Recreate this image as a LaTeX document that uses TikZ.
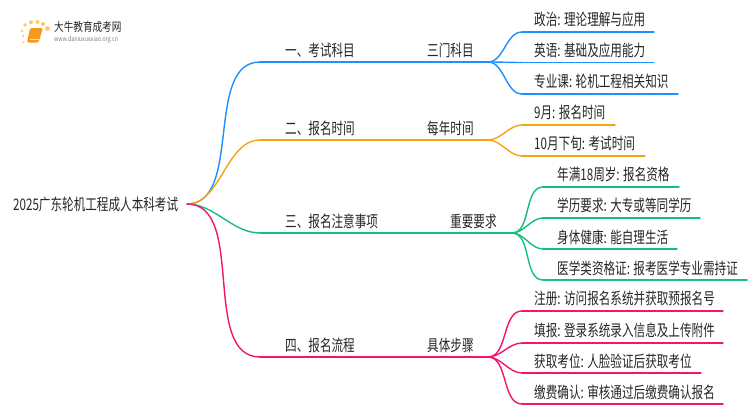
\documentclass[tikz,border=0pt]{standalone}
\usepackage{fontspec}
\setmainfont[FakeStretch=0.725]{Noto Sans CJK SC}
\newfontfamily\logofont[FakeStretch=0.8]{Noto Sans CJK SC}
\definecolor{cblue}{HTML}{1E90FF}
\definecolor{corange}{HTML}{F5A50F}
\definecolor{cgreen}{HTML}{13C07A}
\definecolor{cpink}{HTML}{F5146E}
\definecolor{ctext}{HTML}{262626}
\definecolor{cbook}{HTML}{F59A1E}
\definecolor{cdot}{HTML}{FFCB5A}
\tikzset{
  lab/.style={font=\fontsize{16}{16}\selectfont,text=ctext,inner sep=0pt,anchor=base west},
  wire/.style={line width=1.4pt,line cap=round},
  spine/.style={wire,out=0,in=180,looseness=0.9},
}
\begin{document}
\begin{tikzpicture}[x=1pt,y=-1pt]
\useasboundingbox[fill=white] (0,0) rectangle (750,410);
% logo
\fill[rounded corners=1.5pt,cbook] (30,28) -- (43,28) -- (38.5,42.5) -- (27,42.5) -- cycle;
\fill[white!70!cbook] (29.5,39) rectangle (39,39.8);
\foreach \p/\s in {{23.3,42.3}/1.1,{23.3,36}/1.2,{22,31}/1.4,{25,25}/1.8,{31,22.3}/2,{37.5,22}/2,{43,24}/2,{47.5,28.5}/2.4}{
  \fill[cdot] (\p) circle (\s);
}
\node[inner sep=0pt,font=\logofont\fontsize{12}{12}\selectfont,text=ctext,anchor=base west] (logot) at (54,31.5) {大牛教育成考网};
\node[inner sep=0pt,font=\logofont\fontsize{6.6}{6.6}\selectfont,text=gray,anchor=base west] (logou) at (54,41) {www.daniuxuexiao.org.cn};
% root
\node[lab] (root) at (13,210.5) {2025广东轮机工程成人本科考试};
\coordinate (o) at (187,204);
% branches
\foreach \col/\yy/\name in {cblue/62/a,corange/140/b,cgreen/233/c,cpink/357/d}{
  \coordinate (\name0) at (260,\yy);
  \draw[spine,draw=\col] (o) to (\name0);
}
\coordinate (a1) at (488,62);\coordinate (b1) at (488,140);\coordinate (c1) at (512,233);\coordinate (d1) at (488,357);
\draw[wire,cblue] (a0) -- (a1);
\draw[wire,corange] (b0) -- (b1);
\draw[wire,cgreen] (c0) -- (c1);
\draw[wire,cpink] (d0) -- (d1);
% leaves
\foreach \src/\col/\sx/\yy/\ex in {a1/cblue/522/32/654,a1/cblue/522/62.5/654,a1/cblue/522/94/678,
  b1/corange/522/125/615,b1/corange/522/156/645,
  c1/cgreen/543/187/679,c1/cgreen/543/218/700,c1/cgreen/543/249/677,c1/cgreen/543/280/747,
  d1/cpink/522/311/723,d1/cpink/522/343/723,d1/cpink/522/373/701,d1/cpink/522/404/723}{
  \coordinate (s) at (\sx,\yy);\coordinate (e) at (\ex,\yy);
  \draw[spine,draw=\col] (\src) to (s);
  \draw[wire,\col] (s) -- (e);
}
% labels
\node[lab] (t1) at (285,56) {一、考试科目};
\node[lab] (t2) at (285,134) {二、报名时间};
\node[lab] (t3) at (285,227) {三、报名注意事项};
\node[lab] (t4) at (285,351) {四、报名流程};
\node[lab] (u1) at (427,56) {三门科目};
\node[lab] (u2) at (427,134) {每年时间};
\node[lab] (u3) at (450,227) {重要要求};
\node[lab] (u4) at (427,351) {具体步骤};
\node[lab] (v1) at (534,25.5) {政治: 理论理解与应用};
\node[lab] (v2) at (534,56) {英语: 基础及应用能力};
\node[lab] (v3) at (534,87.5) {专业课: 轮机工程相关知识};
\node[lab] (v4) at (534,118) {9月: 报名时间};
\node[lab] (v5) at (534,149.5) {10月下旬: 考试时间};
\node[lab] (w1) at (557,180.5) {年满18周岁: 报名资格};
\node[lab] (w2) at (557,211.5) {学历要求: 大专或等同学历};
\node[lab] (w3) at (557,243) {身体健康: 能自理生活};
\node[lab] (w4) at (557,274) {医学类资格证: 报考医学专业需持证};
\node[lab] (x1) at (534,304.5) {注册: 访问报名系统并获取预报名号};
\node[lab] (x2) at (534,336) {填报: 登录系统录入信息及上传附件};
\node[lab] (x3) at (534,367) {获取考位: 人脸验证后获取考位};
\node[lab] (x4) at (534,398) {缴费确认: 审核通过后缴费确认报名};
\end{tikzpicture}
\end{document}
